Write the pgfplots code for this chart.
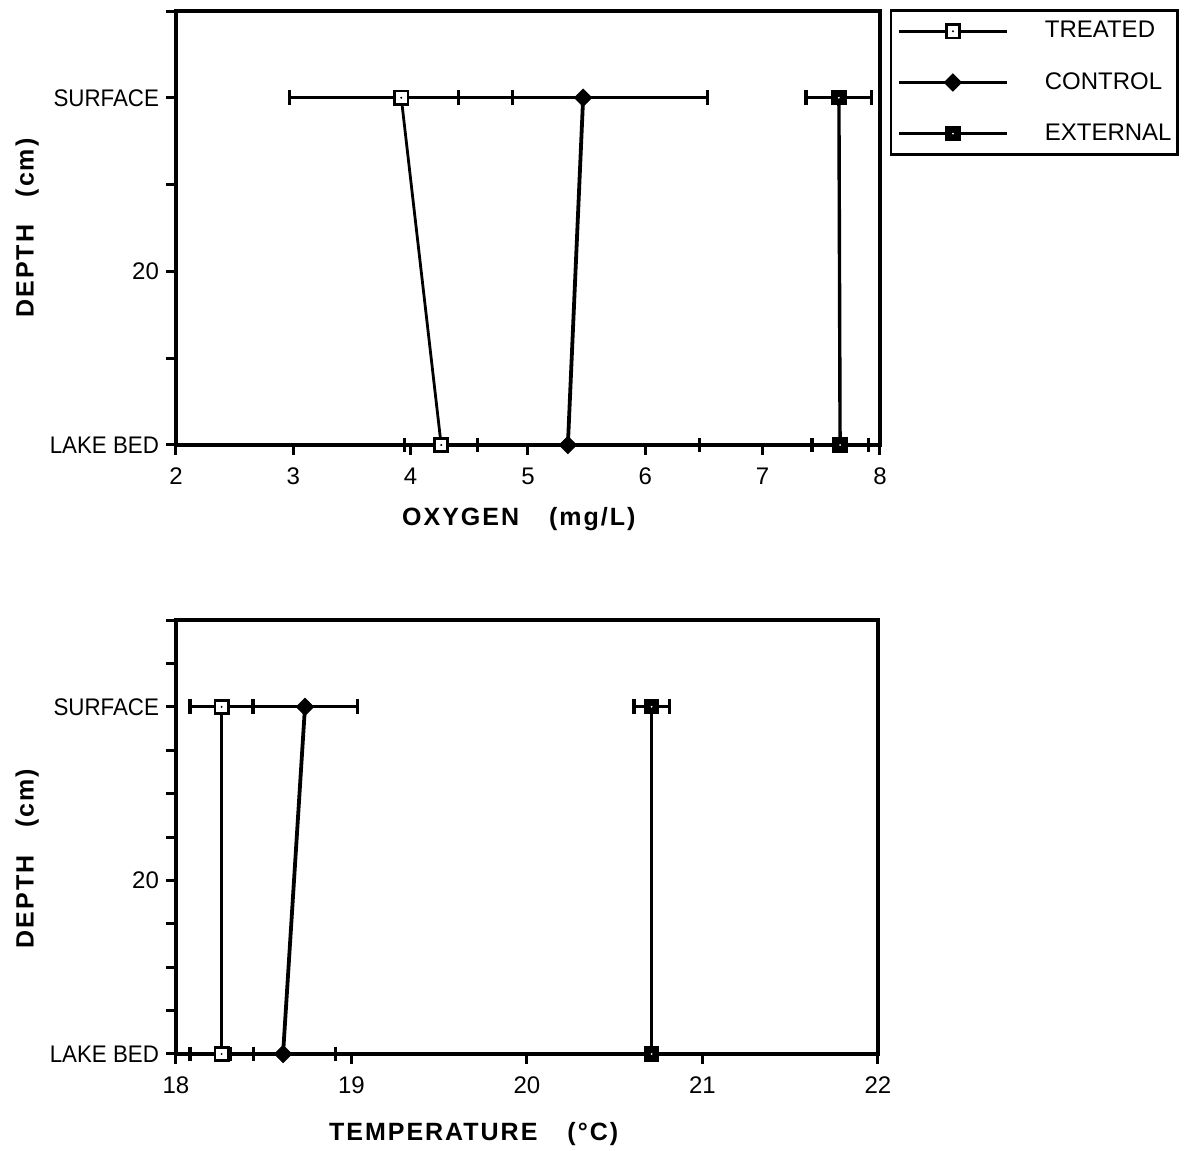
\documentclass[border=0pt]{standalone}
\usepackage{fontspec}
\setmainfont{Liberation Sans}
\newfontfamily\narrow[FakeStretch=0.93]{Liberation Sans}
\newfontfamily\labfont[LetterSpace=8]{Liberation Sans}
\usepackage{pgfplots}
\pgfplotsset{compat=1.18}

\pgfdeclareplotmark{tsq}{%
  \pgfpathrectangle{\pgfqpoint{-\pgfplotmarksize}{-\pgfplotmarksize}}{\pgfqpoint{2\pgfplotmarksize}{2\pgfplotmarksize}}%
  \pgfsetfillcolor{white}\pgfusepathqfillstroke
  \pgfpathcircle{\pgfpointorigin}{0.55pt}\pgfsetfillcolor{black}\pgfusepathqfill}
\pgfdeclareplotmark{esq}{%
  \pgfpathrectangle{\pgfqpoint{-\pgfplotmarksize}{-\pgfplotmarksize}}{\pgfqpoint{2\pgfplotmarksize}{2\pgfplotmarksize}}%
  \pgfsetfillcolor{black}\pgfusepathqfillstroke
  \pgfpathcircle{\pgfpointorigin}{0.5pt}\pgfsetfillcolor{white}\pgfusepathqfill}
\pgfdeclareplotmark{dia}{%
  \pgfpathmoveto{\pgfqpoint{0pt}{\pgfplotmarksize}}%
  \pgfpathlineto{\pgfqpoint{\pgfplotmarksize}{0pt}}%
  \pgfpathlineto{\pgfqpoint{0pt}{-\pgfplotmarksize}}%
  \pgfpathlineto{\pgfqpoint{-\pgfplotmarksize}{0pt}}%
  \pgfpathclose\pgfsetfillcolor{black}\pgfusepathqfillstroke}

\pgfplotsset{
  myax/.style={
    scale only axis, y dir=reverse, ymin=-10, ymax=40,
    axis line style={line width=1.6pt},
    tick style={line width=1.5pt, black},
    tick align=outside, major tick length=5pt,
    xtick pos=bottom, ytick pos=left,
    /pgf/number format/assume math mode=true,
    tick label style={font=\fontsize{12}{14}\selectfont},
    xticklabel style={yshift=-3pt},
    clip=false,
    label style={font=\labfont\bfseries\fontsize{12.5}{14}\selectfont, inner sep=0pt},
    legend image code/.code={\draw[mark repeat=2,mark phase=2,##1] plot coordinates {(0pt,0pt) (27pt,0pt) (54pt,0pt)};},
  },
  ebar/.style={error bars/.cd, x dir=both, x explicit, error mark=|,
    error bar style={line width=1.5pt, black},
    error mark options={line width=1.6pt, mark size=3.7pt, black}},
  treated/.style={black, line width=1.4pt, mark=tsq, mark options={line width=1.3pt, mark size=3.3pt}},
  control/.style={black, line width=1.9pt, mark=dia, mark options={line width=0.6pt, mark size=4.2pt}},
  external/.style={black, line width=1.7pt, mark=esq, mark options={line width=0.6pt, mark size=3.5pt}},
}

\begin{document}
\begin{tikzpicture}
\path[use as bounding box] (0pt,0pt) rectangle (592.5pt,575.5pt);

% ---------- top: oxygen ----------
\begin{axis}[myax,
  at={(88pt,353pt)}, anchor=south west,
  width=352pt, height=217pt,
  xmin=2, xmax=8, xtick={2,...,8},
  ytick={-10,0,...,40},
  yticklabels={{},{\narrow SURFACE},{},20,{},{\narrow LAKE BED}},
  xlabel={OXYGEN\hspace{1.2em}(mg/L)},
  xlabel style={at={(axis description cs:0.487,0)}, anchor=north, yshift=-31pt},
  ylabel={DEPTH\hspace{1.1em}(cm)},
  ylabel style={at={(axis description cs:-0.2287,0.5)}, anchor=north},
  legend style={at={(1.014,1.004)}, anchor=north west, draw=black, line width=1.2pt,
    fill=white, inner xsep=3pt, inner ysep=5.5pt, row sep=15.8pt, column sep=18pt,
    font=\fontsize{12}{14}\selectfont,
    nodes={inner sep=0pt}},
  legend cell align=left,
]
\addplot[treated, ebar] coordinates {(3.92,0) +- (0.95,0) (4.26,40) +- (0.31,0)};
\addlegendentry{TREATED}
\addplot[control, ebar] coordinates {(5.47,0) +- (1.06,0) (5.34,40) +- (1.12,0)};
\addlegendentry{CONTROL}
\addplot[external, ebar] coordinates {(7.65,0) +- (0.28,0) (7.66,40) +- (0.24,0)};
\addlegendentry{EXTERNAL}
\end{axis}

% ---------- bottom: temperature ----------
\begin{axis}[myax,
  at={(88pt,48.5pt)}, anchor=south west,
  width=351pt, height=217pt,
  xmin=18, xmax=22, xtick={18,...,22},
  ytick={-10,-5,...,40},
  yticklabels={{},{},{\narrow SURFACE},{},{},{},20,{},{},{},{\narrow LAKE BED}},
  xlabel={TEMPERATURE\hspace{1.2em}(°C)},
  xlabel style={at={(axis description cs:0.424,0)}, anchor=north, yshift=-34pt},
  ylabel={DEPTH\hspace{1.1em}(cm)},
  ylabel style={at={(axis description cs:-0.2293,0.45)}, anchor=north},
]
\addplot[treated, ebar] coordinates {(18.26,0) +- (0.18,0) (18.26,40) +- (0.18,0)};
\addplot[control, ebar] coordinates {(18.735,0) +- (0.30,0) (18.61,40) +- (0.30,0)};
\addplot[external, ebar] coordinates {(20.71,0) +- (0.10,0) (20.71,40) +- (0.03,0)};
\end{axis}
\end{tikzpicture}
\end{document}
